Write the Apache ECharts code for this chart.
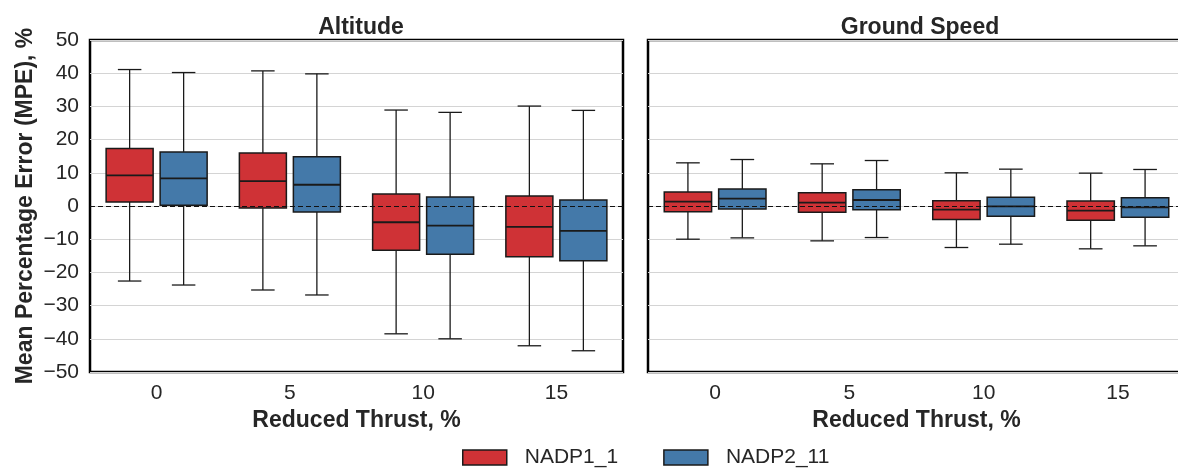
<!DOCTYPE html>
<html>
<head>
<meta charset="utf-8">
<script src="https://cdn.jsdelivr.net/npm/echarts@6/dist/echarts.min.js"></script>
<style>
  html, body { margin: 0; padding: 0; background: #fff; }
  #chart { width: 1178px; height: 475px; }
</style>
</head>
<body>
<div id="chart"></div>
<script>
// reduced thrust levels (%)
const thrust = ["0", "5", "10", "15"];
const yTicks = [-50, 50, 10];

// [lower whisker, Q1, median, Q3, upper whisker]
const altNadp1 = [
  [-22.6, 1.2, 9.2, 17.3, 41.1],
  [-25.3, -0.6, 7.5, 16.0, 40.7],
  [-38.5, -13.3, -4.9, 3.6, 28.9],
  [-42.1, -15.3, -6.3, 3.0, 30.1],
];
const altNadp2 = [
  [-23.8, 0.2, 8.3, 16.3, 40.2],
  [-26.8, -1.8, 6.4, 14.8, 39.8],
  [-40.0, -14.5, -5.9, 2.7, 28.2],
  [-43.6, -16.5, -7.5, 1.8, 28.8],
];
const gsNadp1 = [
  [-10.0, -1.7, 1.3, 4.2, 13.0],
  [-10.5, -1.9, 1.0, 4.0, 12.7],
  [-12.5, -4.1, -1.1, 1.6, 10.0],
  [-12.9, -4.3, -1.4, 1.5, 9.9],
];
const gsNadp2 = [
  [-9.6, -0.9, 2.2, 5.1, 14.0],
  [-9.5, -1.1, 1.8, 4.9, 13.7],
  [-11.5, -3.1, -0.1, 2.6, 11.1],
  [-12.0, -3.4, -0.4, 2.5, 11.0],
];

const RED = "#cf3236";
const BLUE = "#4479a9";
const INK = "#262626";
const FONT = "'Liberation Sans', Arial, sans-serif";
const BOX_FRAC = 47 / 133.25;
const SHIFT = 27 / 133.25;

function renderBox(shift) {
  return function (params, api) {
    const cat = api.value(0);
    const band = api.size([1, 0])[0];
    const w = band * BOX_FRAC;
    const cx = api.coord([cat, 0])[0] + band * shift;
    const y = (i) => api.coord([cat, api.value(i)])[1];
    const yLo = y(1), yQ1 = y(2), yMed = y(3), yQ3 = y(4), yHi = y(5);
    const stroke = { stroke: "#1a1a1a", lineWidth: 1.3 };
    const cap = w / 4;
    return {
      type: "group",
      children: [
        { type: "line", shape: { x1: cx, y1: yHi, x2: cx, y2: yQ3 }, style: stroke },
        { type: "line", shape: { x1: cx, y1: yQ1, x2: cx, y2: yLo }, style: stroke },
        { type: "line", shape: { x1: cx - cap, y1: yHi, x2: cx + cap, y2: yHi }, style: stroke },
        { type: "line", shape: { x1: cx - cap, y1: yLo, x2: cx + cap, y2: yLo }, style: stroke },
        {
          type: "rect",
          shape: { x: cx - w / 2, y: yQ3, width: w, height: yQ1 - yQ3 },
          style: { fill: api.visual("color"), stroke: "#1a1a1a", lineWidth: 1.5 },
        },
        { type: "line", shape: { x1: cx - w / 2, y1: yMed, x2: cx + w / 2, y2: yMed }, style: { stroke: "#1a1a1a", lineWidth: 1.8 } },
      ],
    };
  };
}

function boxSeries(name, color, values, gridIdx, shift, withZero) {
  const s = {
    name,
    type: "custom",
    xAxisIndex: gridIdx,
    yAxisIndex: gridIdx,
    itemStyle: { color },
    renderItem: renderBox(shift),
    encode: { x: 0, y: [1, 2, 3, 4, 5] },
    data: values.map((v, i) => [i, ...v]),
    z: 3,
  };
  if (withZero) {
    s.markLine = {
      silent: true,
      symbol: "none",
      label: { show: false },
      lineStyle: { color: "#111", type: [5, 3], width: 1.2 },
      data: [{ yAxis: 0 }],
      z: 4,
    };
  }
  return s;
}

const grids = [
  { left: 90, top: 40, width: 533, height: 332 },
  { left: 648, top: 40, width: 537, height: 332 },
];

const chart = echarts.init(document.getElementById("chart"), null, { renderer: "canvas" });

chart.setOption({
  animation: false,
  textStyle: { fontFamily: FONT },
  title: [
    { text: "Altitude", left: 356, top: 11, textAlign: "center", textStyle: { fontSize: 23, fontWeight: "bold", color: INK, fontFamily: FONT } },
    { text: "Ground Speed", left: 915, top: 11, textAlign: "center", textStyle: { fontSize: 23, fontWeight: "bold", color: INK, fontFamily: FONT } },
  ],
  legend: {
    bottom: 2,
    left: 457,
    icon: "rect",
    itemWidth: 44,
    itemHeight: 15,
    itemGap: 45,
    itemStyle: { borderColor: "#1a1a1a", borderWidth: 1.5 },
    textStyle: { fontSize: 21, color: INK, fontFamily: FONT, padding: [0, 0, 0, 13] },
    data: ["NADP1_1", "NADP2_11"],
  },
  grid: grids.map((g) => ({
    ...g,
    show: true,
    borderColor: "#000",
    borderWidth: 2.5,
    backgroundColor: "transparent",
    containLabel: false,
    outerBoundsMode: "none",
  })),
  xAxis: grids.map((g, i) => ({
    type: "category",
    gridIndex: i,
    data: thrust,
    axisLine: { show: false },
    axisTick: { show: false },
    axisLabel: { fontSize: 21, color: INK, margin: 11, fontFamily: FONT },
    name: "Reduced Thrust, %",
    nameLocation: "middle",
    nameGap: 37,
    nameTextStyle: { fontSize: 23, fontWeight: "bold", color: INK, fontFamily: FONT },
  })),
  yAxis: grids.map((g, i) => ({
    type: "value",
    gridIndex: i,
    min: yTicks[0],
    max: yTicks[1],
    interval: yTicks[2],
    axisLine: { show: false },
    axisTick: { show: false },
    axisLabel: { show: i === 0, fontSize: 21, color: INK, margin: 11, fontFamily: FONT, formatter: (v) => String(v).replace("-", "\u2212") },
    splitLine: { lineStyle: { color: "#d4d4d4", width: 1.2 } },
    name: i === 0 ? "Mean Percentage Error (MPE), %" : "",
    nameLocation: "middle",
    nameGap: 53,
    nameTextStyle: { fontSize: 23, fontWeight: "bold", color: INK, fontFamily: FONT },
  })),
  series: [
    boxSeries("NADP1_1", RED, altNadp1, 0, -SHIFT, true),
    boxSeries("NADP2_11", BLUE, altNadp2, 0, SHIFT, false),
    boxSeries("NADP1_1", RED, gsNadp1, 1, -SHIFT, true),
    boxSeries("NADP2_11", BLUE, gsNadp2, 1, SHIFT, false),
  ],
});
</script>
</body>
</html>
